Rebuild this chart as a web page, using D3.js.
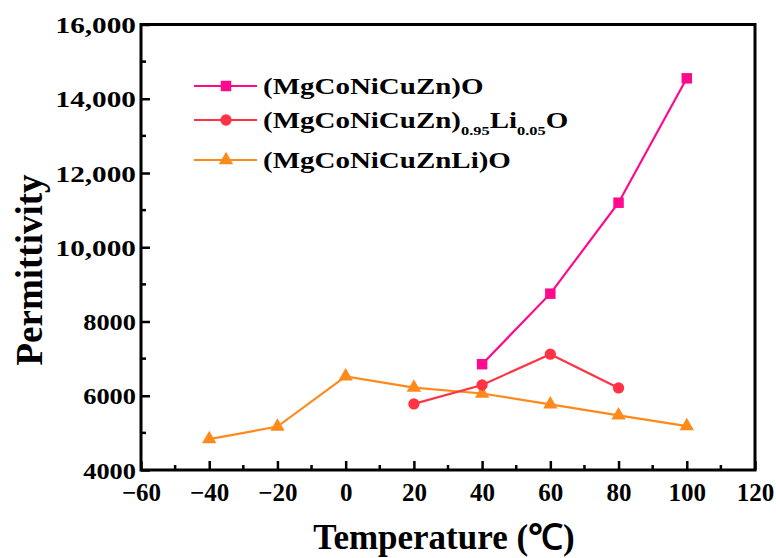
<!DOCTYPE html>
<html><head><meta charset="utf-8">
<script src="https://cdn.jsdelivr.net/npm/d3@7"></script>
<style>body{margin:0;background:#fff}svg{display:block}</style>
</head><body>
<svg id="c" width="776" height="558"></svg>
<script>
const xTicks = [-60,-40,-20,0,20,40,60,80,100,120];
const yTicks = [4000,6000,8000,10000,12000,14000,16000];
const yTickLabels = ["4000","6000","8000","10,000","12,000","14,000","16,000"];
const tempA = [40,60,80,100];
const permA = [6850,8750,11200,14550];
const tempB = [20,40,60,80];
const permB = [5780,6290,7120,6210];
const tempC = [-40,-20,0,20,40,60,80,100];
const permC = [4830,5170,6520,6220,6060,5770,5470,5180];
const seriesNames = ["(MgCoNiCuZn)O","(MgCoNiCuZn)0.95Li0.05O","(MgCoNiCuZnLi)O"];
const colors = ["#ff0a8c","#ff3344","#ff8a1c"];

const svg = d3.select("#c");
const L=141, R=755, T=24.5, B=470;
const x = d3.scaleLinear().domain([-60,120]).range([L,R]);
const y = d3.scaleLinear().domain([4000,16000]).range([B,T]);
const font = "'Liberation Serif','Times New Roman',serif";

// minor ticks
const g = svg.append("g");
d3.range(-50,120,20).forEach(v=>{
  g.append("line").attr("x1",x(v)).attr("x2",x(v)).attr("y1",B).attr("y2",B-5).attr("stroke","#000").attr("stroke-width",2.5);
});
d3.range(5000,16000,2000).forEach(v=>{
  g.append("line").attr("y1",y(v)).attr("y2",y(v)).attr("x1",L).attr("x2",L+5).attr("stroke","#000").attr("stroke-width",2.5);
});
// major ticks via axes
const xAxis = d3.axisBottom(x).tickValues(xTicks).tickSize(-9).tickFormat(d=>d<0?"\u2212"+Math.abs(d):d);
const yAxis = d3.axisLeft(y).tickValues(yTicks).tickSize(-9).tickFormat((d,i)=>yTickLabels[i]);
const gx = svg.append("g").attr("transform",`translate(0,${B})`).call(xAxis);
const gy = svg.append("g").attr("transform",`translate(${L},0)`).call(yAxis);
[gx,gy].forEach(a=>{
  a.select(".domain").remove();
  a.selectAll(".tick line").attr("stroke","#000").attr("stroke-width",2.5);
  a.selectAll("text").attr("font-family",font).attr("font-weight","bold").attr("fill","#000");
});
gx.selectAll("text").attr("font-size",25).attr("dy",0).attr("y",31);
gy.selectAll(".tick text").each(function(d,i){
  const t=d3.select(this);
  const s = yTickLabels[i].includes(",") ? 1.22 : 1.1;
  t.attr("font-size",24).attr("dy","0.34em").attr("transform",`scale(${s},1)`).attr("x",-5/s);
});
// frame
svg.append("rect").attr("x",L).attr("y",T).attr("width",R-L).attr("height",B-T)
  .attr("fill","none").attr("stroke","#000").attr("stroke-width",3);

// series
const data = [
  {t:tempA,p:permA,sym:d3.symbolSquare,size:110},
  {t:tempB,p:permB,sym:d3.symbolCircle,size:100},
  {t:tempC,p:permC,sym:d3.symbolTriangle,size:90}
];
const line = d3.line().x(d=>x(d[0])).y(d=>y(d[1]));
data.slice().reverse().forEach((s,ri)=>{
  const i = 2-ri;
  const pts = s.t.map((t,k)=>[t,s.p[k]]);
  svg.append("path").attr("d",line(pts)).attr("fill","none").attr("stroke",colors[i]).attr("stroke-width",2.2);
  svg.selectAll(null).data(pts).enter().append("path")
    .attr("d",d3.symbol().type(s.sym).size(s.size))
    .attr("transform",d=>`translate(${x(d[0])},${y(d[1])})`)
    .attr("fill",colors[i]);
});

// legend
const legY=[86,120,160];
const leg = svg.append("g");
data.forEach((s,i)=>{
  leg.append("line").attr("x1",194).attr("x2",257).attr("y1",legY[i]).attr("y2",legY[i]).attr("stroke",colors[i]).attr("stroke-width",2.2);
  leg.append("path").attr("d",d3.symbol().type(s.sym).size(s.size)).attr("transform",`translate(226,${legY[i]})`).attr("fill",colors[i]);
  const tx = leg.append("text").attr("transform",`translate(263,${legY[i]+8}) scale(1.26,1)`)
    .attr("font-family",font).attr("font-weight","bold").attr("font-size",23).attr("fill","#000");
  if(i===1){
    tx.append("tspan").text("(MgCoNiCuZn)");
    tx.append("tspan").text("0.95").attr("font-size",13).attr("dy",7);
    tx.append("tspan").text("Li").attr("dy",-7);
    tx.append("tspan").text("0.05").attr("font-size",13).attr("dy",7);
    tx.append("tspan").text("O").attr("dy",-7);
  } else tx.text(seriesNames[i]);
});

// axis titles
svg.append("text").attr("x",(L+R)/2-4).attr("y",549).attr("text-anchor","middle")
  .attr("font-family",font).attr("font-weight","bold").attr("font-size",35).attr("fill","#000")
  .text("Temperature (\u2103)");
svg.append("text").attr("transform",`translate(42,270) rotate(-90)`).attr("text-anchor","middle")
  .attr("font-family",font).attr("font-weight","bold").attr("font-size",37).attr("fill","#000")
  .text("Permittivity");
</script>
</body></html>
